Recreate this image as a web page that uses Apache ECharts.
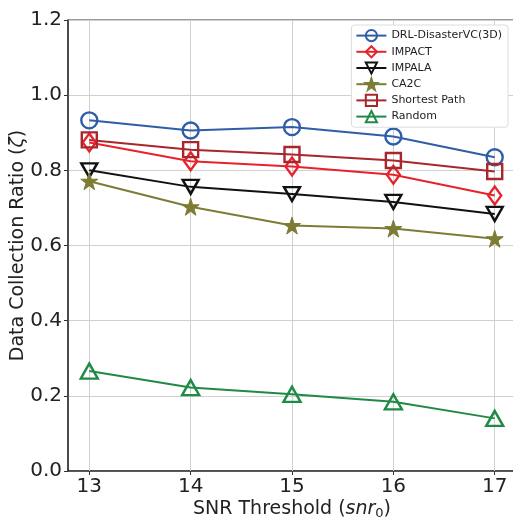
<!DOCTYPE html>
<html><head><meta charset="utf-8">
<script src="https://cdn.jsdelivr.net/npm/echarts@6/dist/echarts.min.js"></script>
<style>html,body{margin:0;padding:0;background:#fff}#c{width:513px;height:523px}</style>
</head><body><div id="c"></div>
<script>
const snr = [13, 14, 15, 16, 17];
const yTicks = [0, 0.2, 0.4, 0.6, 0.8, 1.0, 1.2];
const drl = [0.933, 0.906, 0.915, 0.890, 0.835];
const impact = [0.874, 0.824, 0.810, 0.788, 0.733];
const impala = [0.800, 0.756, 0.737, 0.716, 0.684];
const ca2c = [0.771, 0.703, 0.653, 0.645, 0.618];
const shortest = [0.881, 0.855, 0.842, 0.826, 0.797];
const random = [0.266, 0.222, 0.204, 0.184, 0.140];

const star = 'path://M50,0 L61.8,35.4 L99,35.4 L69,57.3 L80.4,92.7 L50,70.8 L19.6,92.7 L31,57.3 L1,35.4 L38.2,35.4 Z';
function mk(name, data, color, symbol, opts) {
  return Object.assign({
    name, type: 'line', data: snr.map((x, i) => [x, data[i]]),
    symbol, symbolSize: 16, showSymbol: true,
    lineStyle: { color, width: 2 },
    itemStyle: { color: 'rgba(255,255,255,0)', borderColor: color, borderWidth: 2.4 },
    emphasis: { disabled: true }, animation: false, z: 3
  }, opts || {});
}
const series = [
  mk('DRL-DisasterVC(3D)', drl, '#2f5ea8', 'circle'),
  mk('IMPACT', impact, '#e8222b', 'diamond', { symbolSize: [13, 18] }),
  mk('IMPALA', impala, '#111111', 'triangle', { symbolRotate: 180, symbolSize: [16, 14] }),
  mk('CA2C', ca2c, '#7c7c35', star, { symbolSize: 17, itemStyle: { color: '#7c7c35', borderColor: '#7c7c35', borderWidth: 1 } }),
  mk('Shortest Path', shortest, '#a8262c', 'rect', { symbolSize: 15 }),
  mk('Random', random, '#1f8a45', 'triangle', { symbolSize: [17, 15] })
];
series[0].markLine = {
  silent: true, symbol: 'none', label: { show: false },
  lineStyle: { color: '#d0d0d0', width: 1, type: 'solid' },
  data: snr.map(v => ({ xAxis: v })), z: 1, animation: false
};

const chart = echarts.init(document.getElementById('c'), null, { renderer: 'canvas' });
chart.setOption({
  animation: false,
  backgroundColor: '#fff',
  grid: { left: 68, right: -3, top: 20, bottom: 52, show: true, borderColor: '#333', borderWidth: 1,
          containLabel: false, outerBoundsMode: 'none' },
  legend: {
    orient: 'vertical', right: 5, top: 25, itemWidth: 30, itemHeight: 14, itemGap: 3,
    padding: [4, 6, 4, 4], backgroundColor: '#fff', borderColor: '#ddd', borderWidth: 1, borderRadius: 3,
    textStyle: { fontFamily: 'DejaVu Sans', fontSize: 11, color: '#222' },
    data: series.map(s => s.name)
  },
  xAxis: {
    type: 'value', min: 12.79, max: 17.21,
    name: 'SNR Threshold ({i|snr}{s|0})', nameLocation: 'middle', nameGap: 28, nameMoveOverlap: false,
    nameTextStyle: { fontFamily: 'DejaVu Sans', fontSize: 19, color: '#222',
      rich: { i: { fontFamily: 'DejaVu Sans', fontStyle: 'italic', fontSize: 19, color: '#222' },
              s: { fontFamily: 'DejaVu Sans', fontSize: 13, color: '#222', padding: [8, 0, 0, 0] } } },
    axisLine: { show: true, lineStyle: { color: '#333', width: 1.5 } },
    axisTick: { show: true, length: 4, customValues: snr, lineStyle: { color: '#333' } },
    axisLabel: { customValues: snr, fontFamily: 'DejaVu Sans', fontSize: 20, color: '#222', margin: 6 },
    splitLine: { show: false }
  },
  yAxis: {
    type: 'value', min: 0, max: 1.2, interval: 0.2,
    name: 'Data Collection Ratio ({i|ζ})', nameLocation: 'middle', nameGap: 40, nameMoveOverlap: false,
    nameTextStyle: { fontFamily: 'DejaVu Sans', fontSize: 19, color: '#222',
      rich: { i: { fontFamily: 'DejaVu Sans', fontStyle: 'italic', fontSize: 19, color: '#222' } } },
    axisLine: { show: true, lineStyle: { color: '#333', width: 1.5 } },
    axisTick: { show: true, length: 4, lineStyle: { color: '#333' } },
    axisLabel: { fontFamily: 'DejaVu Sans', fontSize: 20, color: '#222', margin: 6,
      formatter: v => (yTicks.find(t => Math.abs(t - v) < 1e-9) ?? v).toFixed(1) },
    splitLine: { show: true, lineStyle: { color: '#d0d0d0', width: 1 } }
  },
  series
});
</script></body></html>
